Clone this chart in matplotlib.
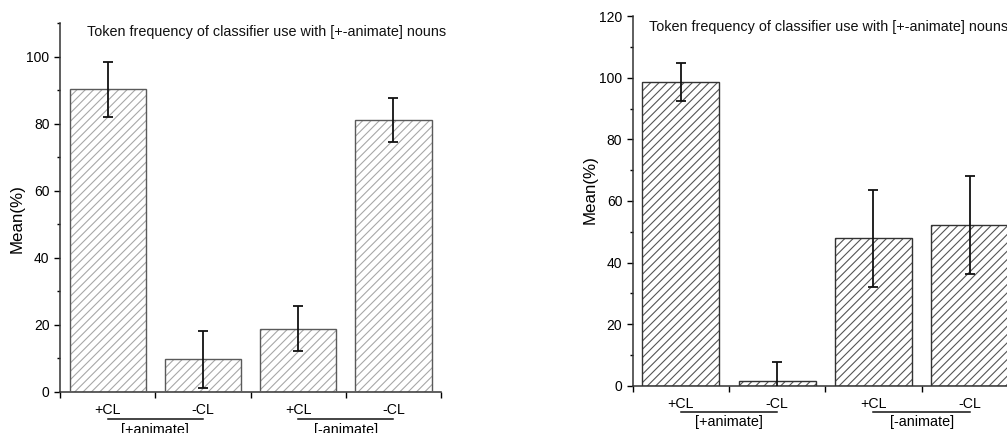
import matplotlib
matplotlib.use("Agg")
import matplotlib.pyplot as plt
from matplotlib.ticker import MultipleLocator, FixedLocator

plt.rcParams['font.family'] = ['Liberation Sans', 'DejaVu Sans']
plt.rcParams['hatch.linewidth'] = 0.8

# data
categories = ["+CL", "-CL", "+CL", "-CL"]
groups = ["[+animate]", "[-animate]"]
title = "Token frequency of classifier use with [+-animate] nouns"

left_means = [90.2, 9.7, 18.8, 81.1]
left_err = [8.3, 8.4, 6.7, 6.7]

right_means = [98.7, 1.5, 47.9, 52.2]
right_err = [6.2, 6.1, 15.7, 15.8]

fig = plt.figure(figsize=(10.07, 4.33), dpi=100)
ax1 = fig.add_axes([0.0596, 0.0947, 0.3784, 0.852])
ax2 = fig.add_axes([0.6283, 0.1092, 0.3826, 0.8532])


def draw_panel(ax, means, err, ymax, title_xy, line_y, grp_y, hatch_col, edge_col):
    x = list(range(1, len(means) + 1))
    # hatch layer then outline layer
    ax.bar(x, means, width=0.8, color="white", edgecolor=hatch_col,
           hatch="////", linewidth=0, zorder=2)
    ax.bar(x, means, width=0.8, fill=False, edgecolor=edge_col,
           linewidth=1.0, zorder=3)
    ax.errorbar(x, means, yerr=err, fmt="none", ecolor="#111111",
                elinewidth=1.3, capsize=3.5, capthick=1.3, zorder=4)

    ax.set_xlim(0.5, len(means) + 0.5)
    ax.set_ylim(0, ymax)
    ax.set_xticks(x)
    ax.set_xticklabels(categories, fontsize=10.2)
    ax.xaxis.set_minor_locator(FixedLocator([i + 0.5 for i in range(len(means) + 1)]))
    ax.tick_params(axis="x", which="major", length=0, pad=8)
    ax.tick_params(axis="x", which="minor", length=4, width=1, direction="out")
    ax.yaxis.set_major_locator(MultipleLocator(20))
    ax.yaxis.set_minor_locator(MultipleLocator(10))
    ax.tick_params(axis="y", which="major", length=4, width=1, labelsize=10)
    ax.tick_params(axis="y", which="minor", length=2.5, width=1)
    ax.set_ylabel("Mean(%)", fontsize=12.2)

    for s in ["top", "right"]:
        ax.spines[s].set_visible(False)
    for s in ["left", "bottom"]:
        ax.spines[s].set_linewidth(1.1)
        ax.spines[s].set_color("#333333")

    ax.text(title_xy[0], title_xy[1], title, transform=ax.transAxes,
            fontsize=10.4, va="center", ha="left", color="#111111")

    # group labels under the tick labels
    trans = ax.get_xaxis_transform()
    for g, lbl in enumerate(groups):
        a, b = x[2 * g], x[2 * g + 1]
        ax.plot([a, b], [line_y, line_y], color="#111111", lw=1.1,
                transform=trans, clip_on=False)
        ax.text((a + b) / 2, grp_y, lbl, transform=trans, ha="center",
                va="center", fontsize=10.4, clip_on=False)


draw_panel(ax1, left_means, left_err, 110, (0.071, 0.976), -0.072, -0.104,
           "#a8a8a8", "#5a5a5a")
draw_panel(ax2, right_means, right_err, 120, (0.042, 0.971), -0.071, -0.099,
           "#555555", "#333333")
ax1.yaxis.set_label_coords(-0.094, 0.47)
ax2.yaxis.set_label_coords(-0.09, 0.53)

fig.savefig("out.png", dpi=100)
